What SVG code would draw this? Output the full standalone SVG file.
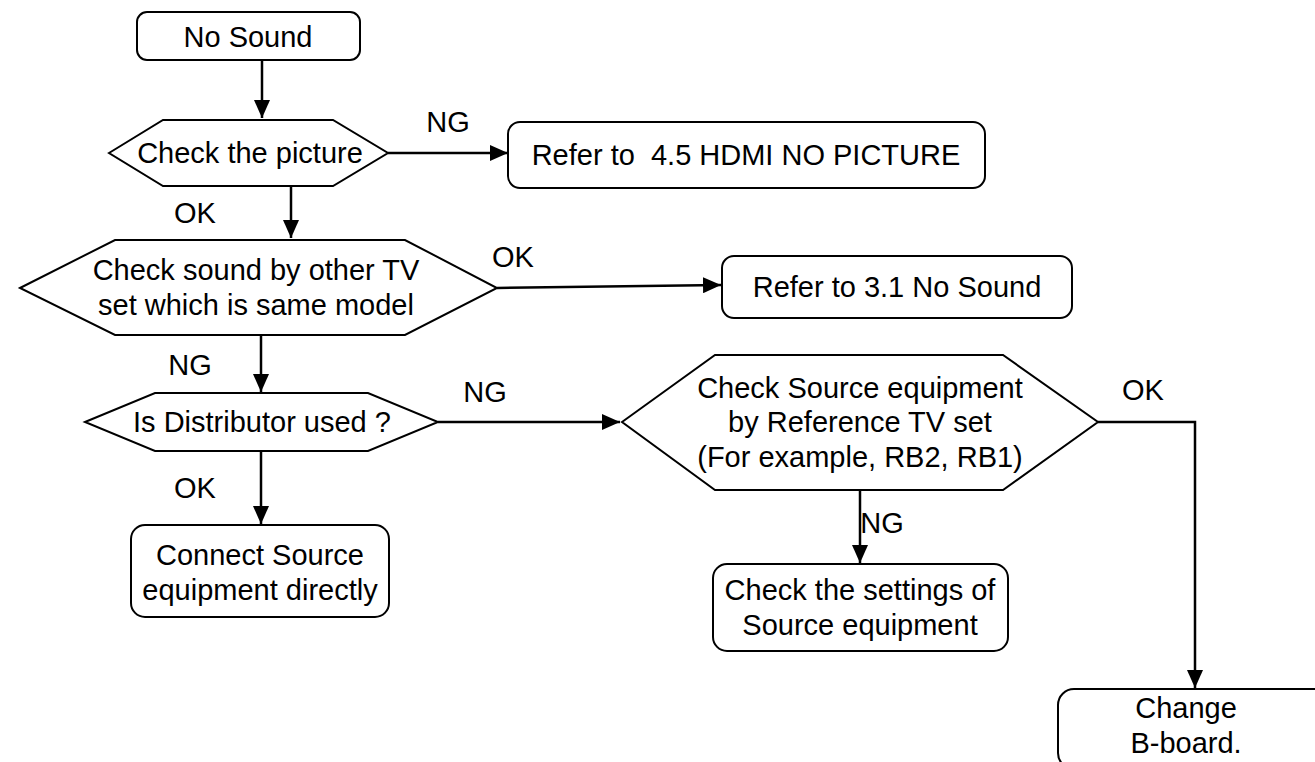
<svg xmlns="http://www.w3.org/2000/svg" width="1315" height="762" viewBox="0 0 1315 762">
<style>
.shape{fill:#fff;stroke:#000;stroke-width:2}
.t{font-family:"Liberation Sans",Arial,sans-serif;font-size:29px;fill:#000;text-anchor:middle}
.c{fill:none;stroke:#000;stroke-width:2.5}
</style>
<defs>
<marker id="ah" markerUnits="userSpaceOnUse" markerWidth="20" markerHeight="16" refX="18" refY="8" orient="auto">
<path d="M0,0 L18,8 L0,16 Z" fill="#000"/>
</marker>
</defs>
<rect width="1315" height="762" fill="#fff"/>
<g id="connectors">
<line class="c" x1="262" y1="60" x2="262" y2="118" marker-end="url(#ah)"/>
<line class="c" x1="388" y1="153" x2="508" y2="153" marker-end="url(#ah)"/>
<line class="c" x1="291" y1="178" x2="291" y2="238" marker-end="url(#ah)"/>
<line class="c" x1="497" y1="288" x2="721" y2="285" marker-end="url(#ah)"/>
<line class="c" x1="261" y1="335" x2="261" y2="392" marker-end="url(#ah)"/>
<line class="c" x1="438" y1="422" x2="620" y2="422" marker-end="url(#ah)"/>
<line class="c" x1="261" y1="451" x2="261" y2="524" marker-end="url(#ah)"/>
<line class="c" x1="860" y1="490" x2="860" y2="563" marker-end="url(#ah)"/>
<polyline class="c" points="1098,422 1195,422 1195,688" marker-end="url(#ah)"/>
<text class="t" x="448" y="132">NG</text>
<text class="t" x="195" y="223">OK</text>
<text class="t" x="513" y="267">OK</text>
<text class="t" x="190" y="375">NG</text>
<text class="t" x="485" y="402">NG</text>
<text class="t" x="195" y="498">OK</text>
<text class="t" x="882" y="533">NG</text>
<text class="t" x="1143" y="400">OK</text>
</g>
<g id="no-sound">
<rect class="shape" x="137" y="12" width="223" height="48" rx="10"/>
<text class="t" x="248" y="47">No Sound</text>
</g>
<g id="check-picture">
<polygon class="shape" points="109,153 163,120 333,120 388,153 333,186 163,186"/>
<text class="t" x="250" y="163">Check the picture</text>
</g>
<g id="hdmi-ref">
<rect class="shape" x="508" y="122" width="477" height="66" rx="12"/>
<text class="t" x="746" y="165" xml:space="preserve">Refer to  4.5 HDMI NO PICTURE</text>
</g>
<g id="check-sound">
<polygon class="shape" points="20,288 115,240 405,240 497,288 405,335 115,335"/>
<text class="t" x="256" y="280">Check sound by other TV</text>
<text class="t" x="256" y="315">set which is same model</text>
</g>
<g id="no-sound-ref">
<rect class="shape" x="722" y="256" width="350" height="62" rx="12"/>
<text class="t" x="897" y="297">Refer to 3.1 No Sound</text>
</g>
<g id="distributor">
<polygon class="shape" points="85,422 155,393 368,393 438,422 368,451 155,451"/>
<text class="t" x="262" y="432">Is Distributor used ?</text>
</g>
<g id="check-source">
<polygon class="shape" points="622,422 715,355 1003,355 1098,422 1003,490 715,490"/>
<text class="t" x="860" y="398">Check Source equipment</text>
<text class="t" x="860" y="432">by Reference TV set</text>
<text class="t" x="860" y="467">(For example, RB2, RB1)</text>
</g>
<g id="connect-direct">
<rect class="shape" x="131" y="525" width="258" height="92" rx="14"/>
<text class="t" x="260" y="565">Connect Source</text>
<text class="t" x="260" y="600">equipment directly</text>
</g>
<g id="check-settings">
<rect class="shape" x="713" y="564" width="295" height="87" rx="14"/>
<text class="t" x="860" y="600">Check the settings of</text>
<text class="t" x="860" y="635">Source equipment</text>
</g>
<g id="change-board">
<rect class="shape" x="1058" y="689" width="290" height="80" rx="16"/>
<text class="t" x="1186" y="718">Change</text>
<text class="t" x="1186" y="753">B-board.</text>
</g>
</svg>
